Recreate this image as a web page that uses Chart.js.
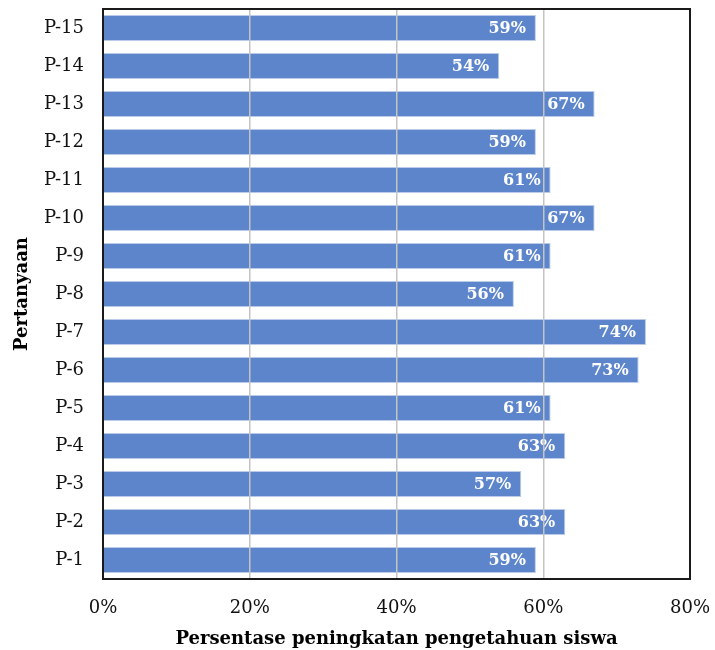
<!DOCTYPE html>
<html>
<head>
<meta charset="utf-8">
<script src="https://cdn.jsdelivr.net/npm/chart.js@4/dist/chart.umd.min.js"></script>
<style>
  html, body { margin: 0; padding: 0; background: #ffffff; }
  #wrap { width: 715px; height: 650px; }
</style>
</head>
<body>
<div id="wrap"><canvas id="c" width="715" height="650"></canvas></div>
<script>
// Questions P-1 .. P-15 and their knowledge-gain percentages
const questions = ['P-1','P-2','P-3','P-4','P-5','P-6','P-7','P-8','P-9','P-10','P-11','P-12','P-13','P-14','P-15'];
const gainPercent = [59, 63, 57, 63, 61, 73, 74, 56, 61, 67, 61, 59, 67, 54, 59];
const xTickValues = [0, 20, 40, 60, 80];

const FONT = "'DejaVu Serif', 'Liberation Serif', serif";

// Keep the plot area edges fixed instead of growing for edge labels
function noEdgePadding(scale) {
  scale.paddingTop = 0;
  scale.paddingBottom = 0;
  scale.paddingLeft = 0;
  scale.paddingRight = 0;
}

// Black frame around the plot area
const frame = {
  id: 'frame',
  afterDraw(chart) {
    const { ctx, chartArea: a } = chart;
    ctx.save();
    ctx.strokeStyle = '#1a1a1a';
    ctx.lineWidth = 2;
    ctx.strokeRect(a.left, a.top, a.right - a.left, a.bottom - a.top);
    ctx.restore();
  }
};

// Value labels inside the bar ends
const valueLabels = {
  id: 'valueLabels',
  afterDatasetsDraw(chart) {
    const { ctx } = chart;
    const meta = chart.getDatasetMeta(0);
    ctx.save();
    ctx.fillStyle = '#ffffff';
    ctx.font = "bold 16px " + FONT;
    ctx.textAlign = 'right';
    ctx.textBaseline = 'middle';
    meta.data.forEach((bar, i) => {
      ctx.fillText(gainPercent[i] + '%', bar.x - 10, bar.y + 1);
    });
    ctx.restore();
  }
};

new Chart(document.getElementById('c'), {
  type: 'bar',
  data: {
    labels: questions,
    datasets: [{
      data: gainPercent,
      backgroundColor: 'rgba(72,118,198,0.89)',
      borderColor: 'rgba(180,199,231,0.9)',
      borderWidth: 1,
      barPercentage: 0.68,
      categoryPercentage: 1.0
    }]
  },
  options: {
    indexAxis: 'y',
    responsive: false,
    animation: false,
    layout: { padding: { top: 9, right: 25, left: 0, bottom: 0 } },
    plugins: {
      legend: { display: false },
      tooltip: { enabled: false }
    },
    scales: {
      x: {
        min: 0,
        max: 80,
        afterBuildTicks(scale) {
          scale.ticks = xTickValues.map(v => ({ value: v }));
        },
        afterFit(scale) { scale.height = 71; noEdgePadding(scale); },
        grid: {
          color: (c) => (c.tick && (c.tick.value === 0 || c.tick.value === 80)) ? 'rgba(0,0,0,0)' : '#c4c4c4',
          lineWidth: 1.5,
          drawTicks: false,
          z: 1
        },
        border: { display: false },
        ticks: {
          padding: 19,
          color: '#111111',
          font: { family: FONT, size: 18 },
          callback: (v) => v + '%'
        },
        title: {
          display: true,
          text: 'Persentase peningkatan pengetahuan siswa',
          color: '#000000',
          font: { family: FONT, size: 18, weight: 'bold' },
          padding: { top: 4, bottom: 0 }
        }
      },
      y: {
        reverse: true,
        afterFit(scale) { scale.width = 103; noEdgePadding(scale); },
        grid: { display: false, drawTicks: false },
        border: { display: false },
        ticks: {
          padding: 19,
          color: '#111111',
          font: { family: FONT, size: 18 }
        },
        title: {
          display: true,
          text: 'Pertanyaan',
          color: '#000000',
          font: { family: FONT, size: 18, weight: 'bold' },
          padding: { top: 12, bottom: 0 }
        }
      }
    }
  },
  plugins: [frame, valueLabels]
});
</script>
</body>
</html>
